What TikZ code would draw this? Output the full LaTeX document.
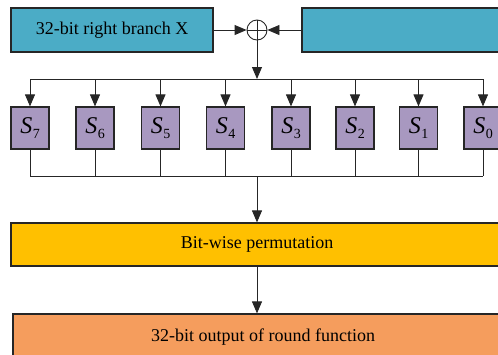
\documentclass[tikz,border=0pt]{standalone}
\usepackage{fontspec}
\setmainfont{Liberation Serif}
\usetikzlibrary{arrows.meta}
\definecolor{fBlue}{HTML}{4BACC6}
\definecolor{fPurple}{HTML}{A898C0}
\definecolor{fGold}{HTML}{FFC000}
\definecolor{fOrange}{HTML}{F59D5D}
\newcommand{\sboxlabel}[1]{\fontsize{24}{24}\selectfont\textit{S}\kern0.5pt\raisebox{-0.4ex}{\fontsize{14}{14}\selectfont #1}}

\begin{document}
\begin{tikzpicture}[x=1pt, y=-1pt,
    box/.style={draw=black!85, line width=1.2pt, inner sep=0pt, font=\fontsize{18}{20}\selectfont},
    sboxnode/.style={box, fill=fPurple, minimum width=38pt, minimum height=42pt},
    link/.style={line width=0.9pt, black!85},
    arr/.style={link, -{Triangle[length=12pt, width=10pt]}}]
    \useasboundingbox (0,0) rectangle (498,354);
    \clip (0,0) rectangle (498,354);
    % input row
    \node[box, fill=fBlue, minimum width=202pt, minimum height=44pt] (branchX) at (112,30) {32-bit right branch X};
    \node[box, fill=fBlue, minimum width=203pt, minimum height=44pt] (keyIn) at (403.5,30) {};
    \node[draw=black!85, line width=0.9pt, circle, minimum size=20pt, inner sep=0pt,
        path picture={\draw[line width=0.9pt] (path picture bounding box.north) -- (path picture bounding box.south)
            (path picture bounding box.west) -- (path picture bounding box.east);}] (xor) at (257,30) {};
    \draw[arr] (branchX) -- (xor);
    \draw[arr] (keyIn) -- (xor);
    % fan-out to the S-boxes
    \coordinate (busTop) at (257,79);
    \coordinate (busL) at (30,79);
    \coordinate (busR) at (483,79);
    \draw[arr] (xor) -- (busTop);
    \draw[link] (busL) -- (busR);
    \coordinate (joinL) at (30,176);
    \coordinate (joinR) at (483,176);
    \draw[link] (joinL) -- (joinR);
    \foreach \x/\i in {30/7, 95/6, 160.5/5, 225.5/4, 291/3, 355/2, 418.5/1, 483/0} {
        \node[sboxnode] (s\i) at (\x,128) {\sboxlabel{\i}};
        \draw[arr] (\x,79) -- (s\i);
        \draw[link] (s\i) -- (\x,176);
    }
    % permutation and output
    \coordinate (joinMid) at (257,176);
    \node[box, fill=fGold, minimum width=492pt, minimum height=43pt] (perm) at (257,244.5) {Bit-wise permutation};
    \node[box, fill=fOrange, minimum width=500pt, minimum height=46pt] (roundOut) at (263,337) {32-bit output of round function};
    \draw[arr] (joinMid) -- (perm);
    \draw[arr] (perm.south) -- (perm.south |- roundOut.north);
\end{tikzpicture}
\end{document}
